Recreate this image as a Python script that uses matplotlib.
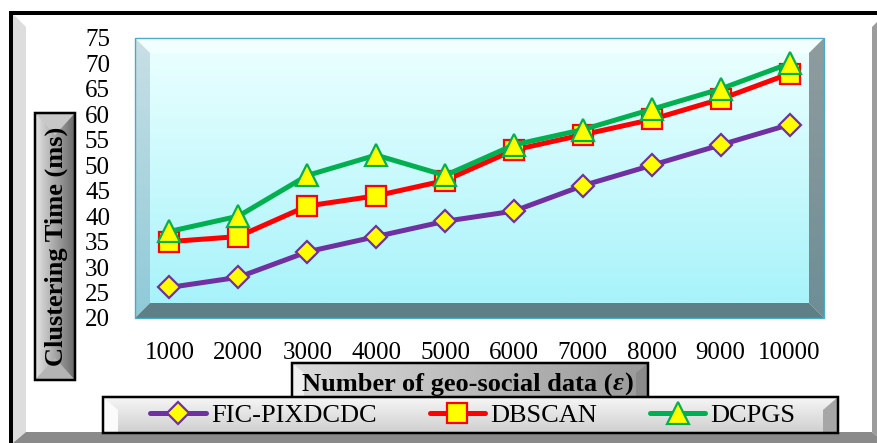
import numpy as np
import matplotlib
matplotlib.use('Agg')
import matplotlib.pyplot as plt
from matplotlib.colors import to_rgb
from matplotlib.patches import Polygon, Rectangle

sizes = ['1000', '2000', '3000', '4000', '5000', '6000', '7000', '8000', '9000', '10000']
fic = [26, 28, 33, 36, 39, 41, 46, 50, 54, 58]
dbscan = [35, 36, 42, 44, 47, 53, 56, 59, 63, 68]
dcpgs = [37, 40, 48, 52, 48, 54, 57, 61, 65, 70]
yticks = [20, 25, 30, 35, 40, 45, 50, 55, 60, 65, 70, 75]

plt.rcParams['font.family'] = ['Liberation Serif', 'DejaVu Serif']

W, H = 878, 443
fig = plt.figure(figsize=(W / 100, H / 100), dpi=100)

# background layer in pixel coords (y down)
bg = fig.add_axes([0, 0, 1, 1])
bg.axis('off')


def grad(x0, x1, y0, y1, c0, c1, vertical=True, z=1, clip=None):
    c0, c1 = np.array(to_rgb(c0)), np.array(to_rgb(c1))
    t = np.linspace(0, 1, 64)[:, None]
    cols = c0 + (c1 - c0) * t
    img = cols[:, None, :] if vertical else cols[None, :, :]
    im = bg.imshow(img, extent=(x0, x1, y1, y0), aspect='auto', zorder=z,
                   interpolation='bilinear')
    if clip is not None:
        im.set_clip_path(clip)
    return im


def poly(pts, color, z=2, **kw):
    p = Polygon(pts, closed=True, facecolor=color, edgecolor='none', zorder=z, **kw)
    bg.add_patch(p)
    return p


def px(v):
    return v * 0.72  # pixels -> points


# chart area frame
bg.add_patch(Rectangle((0, 0), W, H, facecolor='white', edgecolor='none', zorder=0))
poly([(13, 14), (26, 27), (26, 432), (13, 443)], '#dddddd')
poly([(13, 443), (26, 432), (872, 432), (878, 437), (878, 443)], '#8a8a8a')
poly([(872, 27), (878, 21), (878, 437), (872, 432)], '#9c9c9c')
bg.plot([9, W], [12.5, 12.5], color='black', lw=px(4), zorder=3, solid_capstyle='butt')
bg.plot([11, 11], [11, H], color='black', lw=px(4), zorder=3, solid_capstyle='butt')

# plot area with bevel
L, R, T, B, b = 135, 824, 38, 318, 15
grad(L + b, R - b, T + b, B - b, '#e9ffff', '#a8f3fa', z=1)
poly([(L, T), (R, T), (R - b, T + b), (L + b, T + b)], '#f2ffff')
lp = poly([(L, T), (L + b, T + b), (L + b, B - b), (L, B)], 'none')
grad(L, L + b, T, B, '#c9dfe5', '#8ecad8', z=2, clip=lp)
rp = poly([(R, T), (R, B), (R - b, B - b), (R - b, T + b)], 'none')
grad(R - b, R, T, B, '#8f9c9f', '#6e8e96', z=2, clip=rp)
poly([(L, B), (L + b, B - b), (R - b, B - b), (R, B)], '#5e7f88')
bg.add_patch(Rectangle((L, T), R - L, B - T, facecolor='none', edgecolor='#4bacc6',
                       lw=1, zorder=3))

# y label box
yb = Rectangle((35, 113), 40, 267, facecolor='none', edgecolor='none')
bg.add_patch(yb)
grad(35, 75, 113, 380, '#e4e4e4', '#6a6a6a', vertical=False, z=4, clip=yb)
poly([(35, 113), (75, 113), (55, 135)], '#c8c8c8', z=4)
poly([(35, 380), (75, 380), (55, 358)], '#b4b4b4', z=4)
bg.add_patch(Rectangle((35, 113), 40, 267, facecolor='none', edgecolor='black',
                       lw=px(2.5), zorder=5))
bg.text(56, 246, 'Clustering Time (ms)', rotation=90, ha='center', va='center',
        fontsize=19, fontweight='bold', zorder=6)

# x label box
xb = Rectangle((292, 363), 356, 36, facecolor='none', edgecolor='none')
bg.add_patch(xb)
grad(292, 648, 363, 399, '#dcdcdc', '#9a9a9a', vertical=False, z=4, clip=xb)
poly([(292, 363), (304, 373), (304, 399), (292, 399)], '#f0f0f0', z=4)
poly([(648, 363), (636, 373), (636, 399), (648, 399)], '#8a8a8a', z=4)
bg.add_patch(Rectangle((292, 363), 356, 36, facecolor='none', edgecolor='black',
                       lw=px(2.5), zorder=5))
t1 = bg.text(302, 384, 'Number of geo-social data (', ha='left', va='center',
             fontsize=19, fontweight='bold', zorder=6)

# legend box
lb = Rectangle((103, 397), 735, 36, facecolor='none', edgecolor='none')
bg.add_patch(lb)
grad(103, 838, 397, 433, '#f6f6f6', '#cfcfcf', z=7, clip=lb)
poly([(103, 397), (118, 410), (118, 433), (103, 433)], '#fbfbfb', z=7)
poly([(838, 397), (823, 410), (823, 433), (838, 433)], '#a6a6a6', z=7)
bg.add_patch(Rectangle((103, 397), 735, 36, facecolor='none', edgecolor='black',
                       lw=px(2.5), zorder=8))

bg.set_xlim(0, W)
bg.set_ylim(H, 0)

# data axes = outer edge of plot area
ax = fig.add_axes([L / W, 1 - B / H, (R - L) / W, (B - T) / H], facecolor='none')
x = np.arange(len(sizes))
common = dict(lw=px(5), markerfacecolor='#ffff00', markeredgewidth=1.6,
              solid_capstyle='round', solid_joinstyle='round')
l1, = ax.plot(x, fic, color='#7030a0', marker='D', markersize=11,
              markeredgecolor='#7030a0', label='FIC-PIXDCDC', **common)
l2, = ax.plot(x, dbscan, color='#ff0000', marker='s', markersize=14,
              markeredgecolor='#ff0000', label='DBSCAN', **common)
l3, = ax.plot(x, dcpgs, color='#00b050', marker='^', markersize=16,
              markeredgecolor='#00b050', label='DCPGS', **common)
ax.set_xlim(-0.5, 9.5)
ax.set_ylim(20, 75)
ax.set_xticks(x)
ax.set_xticklabels(sizes)
ax.set_yticks(yticks)
for s in ax.spines.values():
    s.set_visible(False)
ax.tick_params(axis='both', length=0, labelsize=18)
ax.tick_params(axis='y', pad=18)
ax.tick_params(axis='x', pad=17)

leg = fig.legend(handles=[l1, l2, l3], ncol=3, loc='center',
                 bbox_to_anchor=(473 / W, 1 - 415 / H), frameon=False, fontsize=19,
                 handlelength=2.1, handletextpad=0.2, columnspacing=2.0)
leg.set_zorder(20)

# epsilon in bold italic after the x label text
fig.canvas.draw()
r = fig.canvas.get_renderer()
bb = t1.get_window_extent(r)
t2 = fig.text(bb.x1 / W, 1 - 384 / H, 'ε', ha='left', va='center', fontsize=19,
              fontweight='bold', fontstyle='italic', zorder=6)
bb2 = t2.get_window_extent(r)
fig.text((bb2.x1 + 1) / W, 1 - 384 / H, ')', ha='left', va='center', fontsize=19,
         fontweight='bold', zorder=6)

fig.savefig('out.png', dpi=100)
